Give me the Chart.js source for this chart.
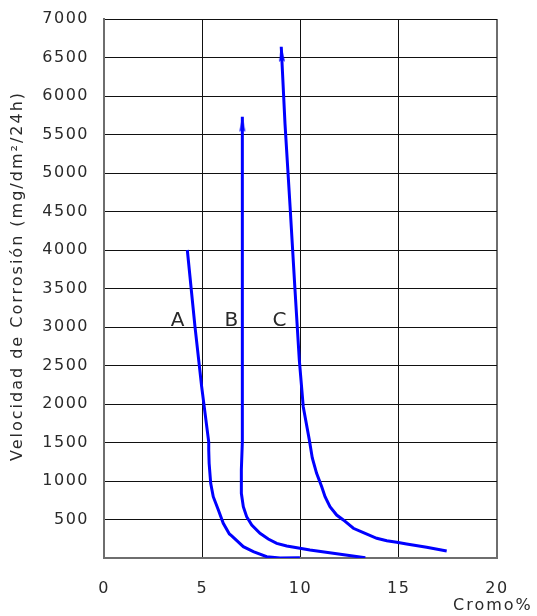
<!DOCTYPE html>
<html>
<head>
<meta charset="utf-8">
<script src="https://cdn.jsdelivr.net/npm/chart.js@4.4.1/dist/chart.umd.min.js"></script>
<style>
  html, body { margin: 0; padding: 0; background: #fff; }
  #wrap { width: 537px; height: 616px; position: relative; }
</style>
</head>
<body>
<div id="wrap"><canvas id="chart" width="537" height="616"></canvas></div>
<script>
// Corrosion rate versus chromium content, three alloy curves A, B, C.
const seriesNames = ['A', 'B', 'C'];

const aCromo = [4.24, 4.63, 4.97, 5.33, 5.33, 5.35, 5.43, 5.56, 5.82, 6.07, 6.38, 6.50, 7.09, 7.60, 8.28, 8.96, 9.97];
const aVel   = [4000, 3004, 2225, 1506, 1400, 1230, 970, 796, 623, 450, 312, 286, 147, 82, 17, 0, 4];

const bCromo = [13.30, 10.48, 9.97, 9.30, 8.79, 8.36, 7.94, 7.52, 7.26, 7.09, 6.99, 6.99, 7.04, 7.04];
const bVel   = [3, 104, 126, 156, 190, 247, 320, 429, 536, 666, 840, 1150, 1506, 5731];

const cCromo = [17.44, 16.42, 15.40, 14.90, 14.39, 13.88, 13.20, 12.69, 12.18, 11.84, 11.50, 11.25, 11.08, 10.82, 10.60, 10.45, 10.14, 9.94, 9.72, 9.47, 9.21, 9.02];
const cVel   = [91, 139, 182, 204, 225, 256, 329, 386, 494, 558, 666, 796, 926, 1100, 1300, 1532, 1965, 2571, 3481, 4562, 5645, 6640];

const xTickValues = [0, 5, 10, 15, 20];
const yTickValues = [0, 500, 1000, 1500, 2000, 2500, 3000, 3500, 4000, 4500, 5000, 5500, 6000, 6500, 7000];

const yTitle = 'Velocidad de Corrosión (mg/dm²/24h)';
const xTitle = 'Cromo%';

// where each curve letter sits, in data units
const letterAt = [
  { text: 'A', x: 3.77, y: 3000 },
  { text: 'B', x: 6.51, y: 3000 },
  { text: 'C', x: 8.96, y: 3000 }
];

const BLUE = '#0000ff';
const TEXT = '#2a2a2a';
const FONT = '"DejaVu Sans", "Liberation Sans", sans-serif';

// slim arrowhead sprite, tip at the sprite centre, body below it
function makeArrow() {
  const c = document.createElement('canvas');
  c.width = 10; c.height = 34;
  const g = c.getContext('2d');
  g.fillStyle = BLUE;
  g.beginPath();
  g.moveTo(5, 17);
  g.lineTo(8, 32);
  g.lineTo(5, 30);
  g.lineTo(2, 32);
  g.closePath();
  g.fill();
  return c;
}
const arrow = makeArrow();

function pairs(xs, ys) { return xs.map((x, i) => ({ x, y: ys[i] })); }

function lastOnly(value) {
  return ctx => (ctx.dataIndex === ctx.dataset.data.length - 1 ? value : 0);
}

function curve(label, xs, ys, withArrow, rot) {
  return {
    label,
    data: pairs(xs, ys),
    showLine: true,
    borderColor: BLUE,
    backgroundColor: BLUE,
    borderWidth: 3,
    tension: 0,
    pointRadius: withArrow ? lastOnly(8) : 0,
    pointHoverRadius: 0,
    pointStyle: arrow,
    rotation: rot || 0
  };
}

const textPlugin = {
  id: 'spacedText',
  beforeDraw(chart) {
    // wide, airy lettering for all text
    chart.ctx.letterSpacing = '1.5px';
  },
  afterDraw(chart) {
    const { ctx, scales: { x, y } } = chart;
    ctx.save();
    ctx.fillStyle = TEXT;
    ctx.letterSpacing = '1px';
    ctx.font = '20px ' + FONT;
    ctx.textAlign = 'center';
    ctx.textBaseline = 'alphabetic';
    letterAt.forEach(l => {
      ctx.fillText(l.text, x.getPixelForValue(l.x), y.getPixelForValue(l.y) - 1);
    });

    ctx.letterSpacing = '2px';
    ctx.font = '16px ' + FONT;
    ctx.textBaseline = 'middle';
    ctx.textAlign = 'left';
    ctx.fillText(xTitle, 453, 606);

    ctx.translate(18, 276);
    ctx.rotate(-Math.PI / 2);
    ctx.textAlign = 'center';
    ctx.fillText(yTitle, 0, 0);
    ctx.restore();
  }
};

new Chart(document.getElementById('chart'), {
  type: 'scatter',
  data: {
    datasets: [
      curve(seriesNames[0], aCromo, aVel, false),
      curve(seriesNames[1], bCromo, bVel, true, 0),
      curve(seriesNames[2], cCromo, cVel, true, -2.8)
    ]
  },
  options: {
    responsive: false,
    animation: false,
    events: [],
    layout: { padding: { top: 19, right: 40, left: 0, bottom: 0 } },
    plugins: { legend: { display: false }, tooltip: { enabled: false } },
    scales: {
      x: {
        type: 'linear',
        min: 0, max: 20,
        afterBuildTicks: s => { s.ticks = xTickValues.map(v => ({ value: v })); },
        afterFit: s => { s.height = 58; s.paddingLeft = 0; s.paddingRight = 0; },
        grid: {
          drawTicks: false,
          color: c => (c.tick && c.tick.value === 20 ? '#6e6e6e' : '#111'),
          lineWidth: c => (c.tick && c.tick.value === 20 ? 2 : 1)
        },
        border: { color: '#6e6e6e', width: 2 },
        ticks: { padding: 21, color: TEXT, font: { family: FONT, size: 16 } }
      },
      y: {
        type: 'linear',
        min: 0, max: 7000,
        afterBuildTicks: s => { s.ticks = yTickValues.map(v => ({ value: v })); },
        afterFit: s => { s.width = 104; s.paddingTop = 0; s.paddingBottom = 0; },
        grid: { drawTicks: false, color: '#111', lineWidth: 1 },
        border: { color: '#6e6e6e', width: 2 },
        ticks: {
          padding: 15,
          color: TEXT,
          font: { family: FONT, size: 16 },
          callback: v => (v === 0 ? '' : String(v))
        }
      }
    }
  },
  plugins: [textPlugin]
});
</script>
</body>
</html>
